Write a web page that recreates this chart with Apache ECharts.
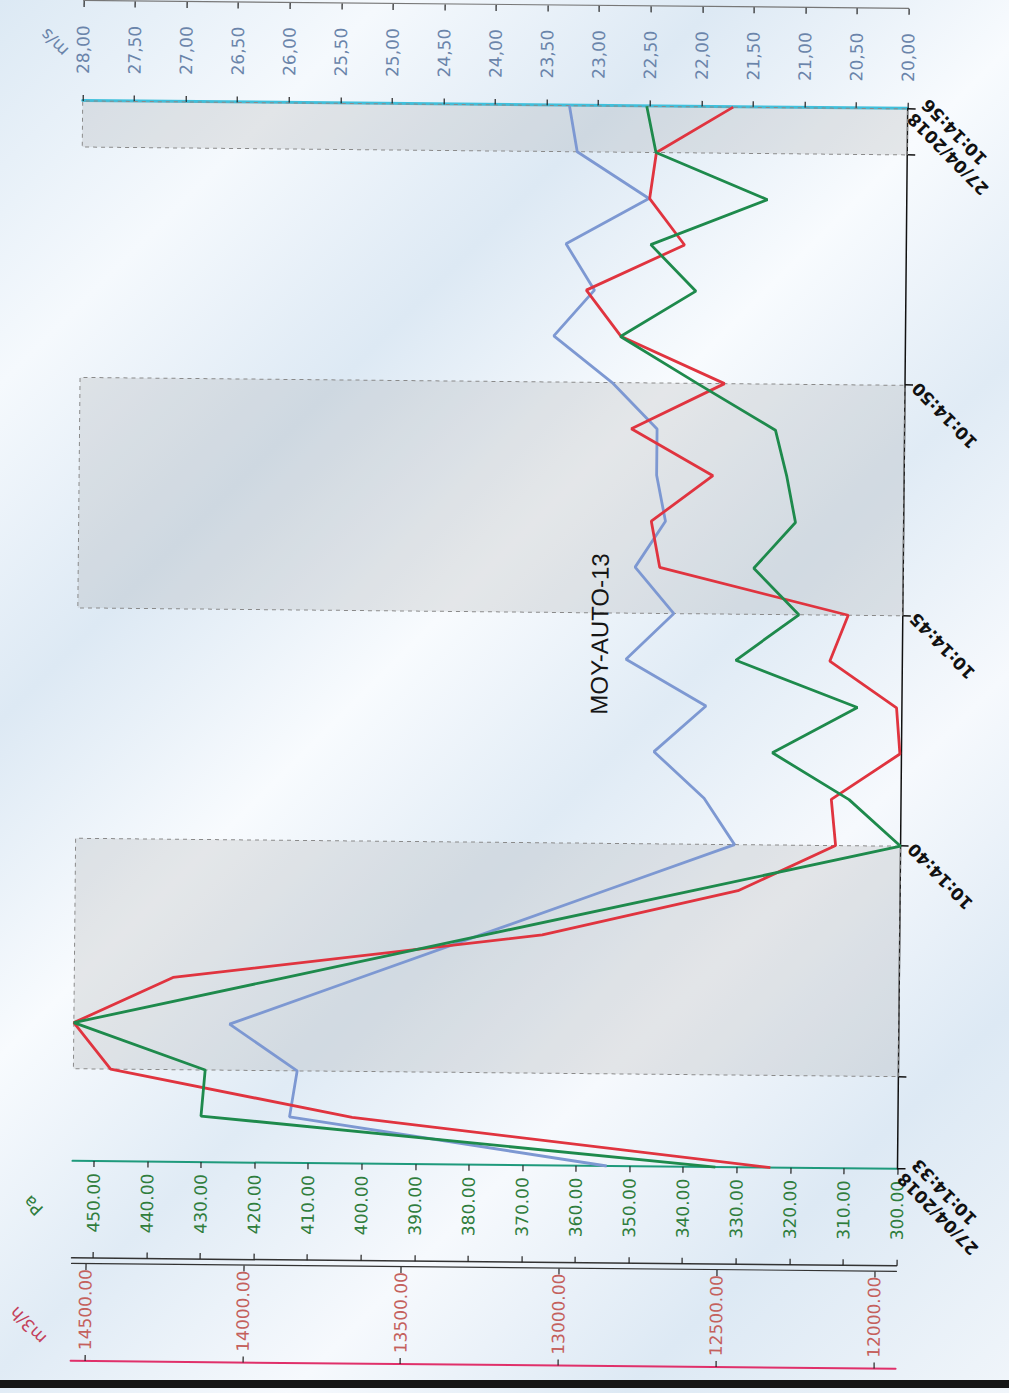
<!DOCTYPE html>
<html>
<head>
<meta charset="utf-8">
<script src="https://cdn.jsdelivr.net/npm/echarts@6/dist/echarts.min.js"></script>
<style>
  html, body { margin: 0; padding: 0; width: 1009px; height: 1393px; overflow: hidden; }
  body {
    background: linear-gradient(135deg, #dce9f4 0%, #f5f9fd 16%, #dde9f4 30%, #f8fbfe 44%, #e0ebf5 57%, #f6f9fd 70%, #dde9f4 84%, #f0f5fa 100%);
  }
  /* the chart is laid out landscape and turned a quarter turn on the page */
  #chart {
    position: absolute; width: 1393px; height: 1009px;
    left: -192px; top: 192px;
    transform: rotate(-89.45deg); transform-origin: 50% 50%;
  }
  #edge { position: absolute; left: 0; top: 1380px; width: 1009px; height: 8px; background: #161616; }
</style>
</head>
<body>
<div id="chart"></div>
<div id="edge"></div>
<script>
// one sample per second, 27/04/2018 10:14:33 -> 10:14:56
const times = ['10:14:33','10:14:34','10:14:35','10:14:36','10:14:37','10:14:38','10:14:39','10:14:40',
  '10:14:41','10:14:42','10:14:43','10:14:44','10:14:45','10:14:46','10:14:47','10:14:48',
  '10:14:49','10:14:50','10:14:51','10:14:52','10:14:53','10:14:54','10:14:55','10:14:56'];
const dateLabel = '27/04/2018';

// air speed (m/s)
const speedMs = [22.82, 25.90, 25.83, 26.49, 25.27, 24.05, 22.83, 21.61,
  21.91, 22.40, 21.90, 22.68, 22.22, 22.60, 22.31, 22.40,
  22.40, 22.84, 23.41, 23.02, 23.30, 22.50, 23.20, 23.28];
// pressure (Pa)
const pressurePa = [334.0, 430.1, 429.4, 454.0, 415.5, 377.0, 338.5, 300.0,
  309.7, 324.1, 308.3, 331.1, 319.4, 327.9, 320.2, 321.9,
  324.1, 338.8, 353.2, 339.2, 347.7, 326.0, 346.9, 348.7];
// air flow (m3/h)
const flowM3h = [12333, 13660, 14427, 14545, 14232, 13063, 12444, 12136,
  12151, 11935, 11947, 12160, 12103, 12702, 12730, 12536,
  12796, 12502, 12831, 12943, 12633, 12745, 12725, 12483];

// axis ticks
const msTicks = [20, 20.5, 21, 21.5, 22, 22.5, 23, 23.5, 24, 24.5, 25, 25.5, 26, 26.5, 27, 27.5, 28];
const paTicks = [300, 310, 320, 330, 340, 350, 360, 370, 380, 390, 400, 410, 420, 430, 440, 450];
const flowTicks = [12000, 12500, 13000, 13500, 14000, 14500];

// time values carrying a tick / a label
const tickTimes = ['10:14:33', '10:14:35', '10:14:40', '10:14:45', '10:14:50', '10:14:55', '10:14:56'];
const labelTimes = ['10:14:33', '10:14:40', '10:14:45', '10:14:50', '10:14:56'];

// shaded 5 s windows
const shadedSpans = [['10:14:35', '10:14:40'], ['10:14:45', '10:14:50'], ['10:14:55', '10:14:56']];

const FONT = '"DejaVu Sans", Verdana, sans-serif';
const colors = { speed: '#7d98d2', pressure: '#1e8a4c', flow: '#e0343f' };

function valueAxis(o) {
  return {
    type: 'value', position: o.position, offset: o.offset || 0,
    min: o.min, max: o.max,
    axisLine: { show: true, onZero: false, lineStyle: { color: o.lineColor, width: o.lineWidth || 1.5 } },
    axisTick: { show: true, inside: !!o.inside, length: 6, customValues: o.ticks, lineStyle: { color: '#222', width: 1.2 } },
    axisLabel: o.labelColor ? {
      show: true, customValues: o.ticks, margin: o.margin, color: o.labelColor,
      fontFamily: FONT, fontSize: 17, formatter: o.fmt
    } : { show: false },
    splitLine: { show: false }
  };
}

const fmtComma = v => v.toFixed(2).replace('.', ',');
const fmtDot = v => v.toFixed(2);

const chart = echarts.init(document.getElementById('chart'), null, { renderer: 'svg' });
chart.setOption({
  animation: false,
  title: {
    text: 'MOY-AUTO-13', left: 755, top: 594, textAlign: 'center', textVerticalAlign: 'middle',
    textStyle: { fontFamily: '"Liberation Sans", Arial, sans-serif', fontSize: 24, fontWeight: 'normal', color: '#151515' }
  },
  grid: { left: 228, right: 105, top: 77, bottom: 107 },
  xAxis: {
    type: 'category', data: times, boundaryGap: false,
    axisLine: { lineStyle: { color: '#111', width: 1.5 } },
    axisTick: { length: 8, interval: (i, v) => tickTimes.includes(v), lineStyle: { color: '#111', width: 1.5 } },
    axisLabel: {
      interval: (i, v) => labelTimes.includes(v), rotate: 45, margin: 10,
      fontFamily: FONT, fontSize: 17, fontWeight: 'bold', color: '#111', lineHeight: 20,
      formatter: (v, i) => (i === 0 || i === times.length - 1) ? dateLabel + '\n' + v : v
    },
    splitLine: { show: false }
  },
  yAxis: [
    valueAxis({ position: 'right', min: 20, max: 28, ticks: msTicks, lineColor: '#3fc0dc', lineWidth: 3,
      labelColor: '#6a84aa', margin: 27, fmt: fmtComma }),
    valueAxis({ position: 'left', min: 300, max: 454, ticks: paTicks, lineColor: '#1f9a7c', lineWidth: 2,
      labelColor: '#2f7d3c', margin: 12, fmt: fmtDot }),
    valueAxis({ position: 'left', offset: 103, min: 11930, max: 14545, ticks: flowTicks, lineColor: '#333', lineWidth: 1.2,
      labelColor: '#c4605c', margin: 5, fmt: fmtDot }),
    valueAxis({ position: 'right', offset: 100, min: 20, max: 28, ticks: msTicks, lineColor: '#777', lineWidth: 1.2, inside: true }),
    valueAxis({ position: 'left', offset: 97, min: 300, max: 454, ticks: paTicks, lineColor: '#333', lineWidth: 1.5, inside: true }),
    valueAxis({ position: 'left', offset: 200, min: 11930, max: 14545, ticks: flowTicks, lineColor: '#e0306a', lineWidth: 2, inside: true })
  ],
  graphic: [
    { type: 'text', x: 1346, y: 48, rotation: Math.PI / 4,
      style: { text: 'm/s', fill: '#6a84aa', font: '17px ' + FONT, align: 'center', verticalAlign: 'middle', textAlign: 'center', textVerticalAlign: 'middle' } },
    { type: 'text', x: 183, y: 38, rotation: Math.PI / 4,
      style: { text: 'Pa', fill: '#2f7d3c', font: '17px ' + FONT, align: 'center', verticalAlign: 'middle', textAlign: 'center', textVerticalAlign: 'middle' } },
    { type: 'text', x: 63, y: 34, rotation: Math.PI / 4,
      style: { text: 'm3/h', fill: '#c4405a', font: '17px ' + FONT, align: 'center', verticalAlign: 'middle', textAlign: 'center', textVerticalAlign: 'middle' } }
  ],
  series: [
    {
      name: 'm/s', type: 'line', yAxisIndex: 0, data: speedMs, symbol: 'none', z: 3,
      lineStyle: { color: colors.speed, width: 2.8 },
      markArea: {
        silent: true,
        itemStyle: { color: 'rgba(150,150,150,0.2)', borderColor: '#8a8a8a', borderWidth: 1, borderType: [4, 4] },
        data: shadedSpans.map(s => [{ xAxis: s[0] }, { xAxis: s[1] }])
      }
    },
    { name: 'm3/h', type: 'line', yAxisIndex: 2, data: flowM3h, symbol: 'none', z: 4,
      lineStyle: { color: colors.flow, width: 2.8 } },
    { name: 'Pa', type: 'line', yAxisIndex: 1, data: pressurePa, symbol: 'none', z: 5,
      lineStyle: { color: colors.pressure, width: 2.8 } }
  ]
});
</script>
</body>
</html>
